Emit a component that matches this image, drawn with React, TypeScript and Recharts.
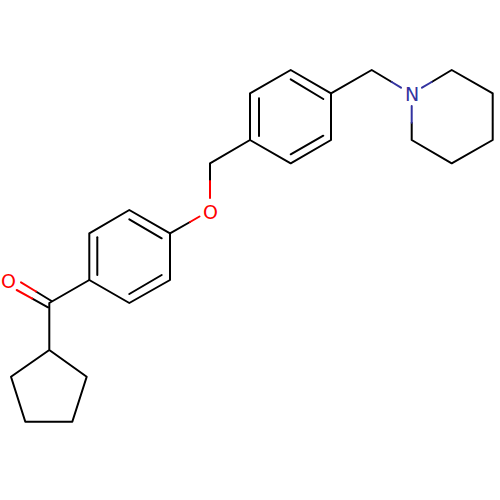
import React from 'react';
import { LineChart, Line, XAxis, YAxis, LabelList } from 'recharts';

type Pt = [number, number];

// atom skeleton (x to the right, y downwards)
const cyclopentylChain: Pt[] = [[89.3, 280], [49.3, 303], [49.3, 350], [86.7, 376.7], [72.3, 421.7], [25.3, 421.7], [11, 376.7], [49.3, 350]];
const ringA: Pt[] = [[89.3, 280], [89.3, 233.3], [129.3, 210], [170, 233.3], [170, 280], [129.3, 303], [89.3, 280]];
const ringB: Pt[] = [[250, 140], [250, 93.3], [290.7, 70], [331, 93.3], [331, 140], [290.7, 163.3], [250, 140]];
const etherLink: Pt[] = [[170, 233.3], [190, 222]];
const benzylLink: Pt[] = [[210, 181], [210, 163.3], [250, 140]];
const aminoLink: Pt[] = [[331, 93.3], [371.7, 70], [391.7, 82]];
const piperidineChain: Pt[] = [[411.7, 122.7], [411.7, 140], [451.7, 163.3], [492.7, 140], [492.7, 93.3], [451.7, 70], [431.7, 82]];
const innerBonds: Pt[][] = [
  [[97.3, 237.3], [97.3, 275]],
  [[129.3, 219.3], [161.7, 238.3]],
  [[129.3, 294], [161.7, 275]],
  [[259, 98.3], [259, 136]],
  [[290.7, 79.3], [323.3, 99]],
  [[290.7, 154.3], [323.3, 135.7]],
  [[36, 291.5], [51.5, 301]],
  [[32.3, 298.6], [48, 307.3]],
];
const redBonds: Pt[][] = [
  [[190, 222], [199.5, 216.5]],
  [[210, 198], [210, 181]],
  [[21, 282.3], [36, 291.5]],
  [[16.7, 290], [32.3, 298.6]],
];
const blueBonds: Pt[][] = [
  [[391.7, 82], [401, 87.7]],
  [[431.7, 82], [422, 87.7]],
  [[411.7, 106], [411.7, 122.7]],
];
const atomLabels = [
  { x: 8.5, y: 281.7, element: 'O', color: '#ff0000' },
  { x: 210.6, y: 212, element: 'O', color: '#ff0000' },
  { x: 412.2, y: 94.3, element: 'N', color: '#3333a0' },
];

const blackPaths = [cyclopentylChain, ringA, ringB, etherLink, benzylLink, aminoLink, piperidineChain, ...innerBonds];

const toRows = (pts: Pt[]) => pts.map(([x, y]) => ({ x, y }));

export default function App() {
  const series = [
    ...blackPaths.map((p) => ({ pts: p, color: '#000000' })),
    ...redBonds.map((p) => ({ pts: p, color: '#ff0000' })),
    ...blueBonds.map((p) => ({ pts: p, color: '#3333a0' })),
  ];
  return (
    <div style={{ position: 'absolute', left: 0, top: 0, width: 500, height: 500, background: '#fff' }}>
      <LineChart width={500} height={500} margin={{ top: 0, right: 0, bottom: 0, left: 0 }}>
        <XAxis type="number" dataKey="x" domain={[0, 500]} hide />
        <YAxis type="number" dataKey="y" domain={[0, 500]} reversed hide />
        {series.map((s, i) => (
          <Line
            key={i}
            data={toRows(s.pts)}
            dataKey="y"
            stroke={s.color}
            strokeWidth={2}
            strokeLinecap="round"
            strokeLinejoin="round"
            dot={false}
            activeDot={false}
            legendType="none"
            isAnimationActive={false}
          />
        ))}
        {atomLabels.map((a, i) => (
          <Line
            key={`atom-${i}`}
            data={[a]}
            dataKey="y"
            stroke="none"
            dot={false}
            activeDot={false}
            isAnimationActive={false}
          >
            <LabelList
              dataKey="element"
              position="center"
              fill={a.color}
              style={{ fontFamily: '"DejaVu Sans", sans-serif', fontSize: 19 }}
            />
          </Line>
        ))}
      </LineChart>
    </div>
  );
}
